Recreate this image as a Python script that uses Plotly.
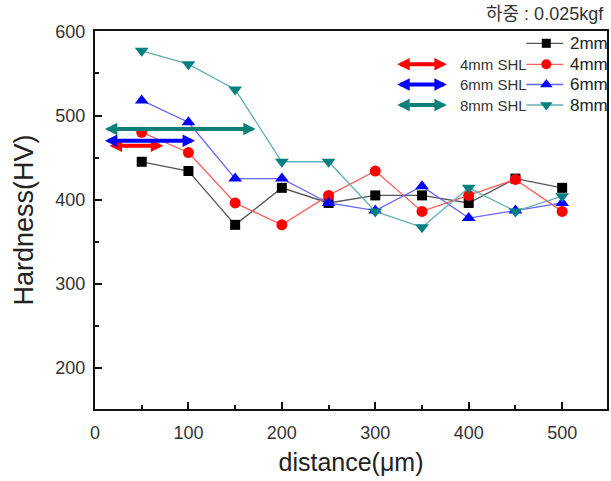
import plotly.graph_objects as go

# ---------------- data ----------------
distance = [50, 100, 150, 200, 250, 300, 350, 400, 450, 500]
hv_2mm = [445, 434, 370, 414, 396, 405, 405, 396, 425, 414]
hv_4mm = [480, 456, 396, 370, 405, 434, 386, 405, 424, 386]
hv_6mm = [518, 492, 425, 425, 396, 387, 416, 378, 387, 396]
hv_8mm = [577, 561, 531, 445, 445, 386, 367, 414, 386, 404]

series_names = ["2mm", "4mm", "6mm", "8mm"]
series_values = [hv_2mm, hv_4mm, hv_6mm, hv_8mm]
marker_symbols = ["square", "circle", "triangle-up", "triangle-down"]
marker_colors = ["#000000", "#ff0000", "#0000ff", "#008080"]
line_colors = ["#555555", "#ff5c5c", "#6464ff", "#5fb0b0"]
marker_sizes = [10, 11, 12, 12]

shl_labels = ["4mm SHL", "6mm SHL", "8mm SHL"]
shl_start = [14, 9, 9]
shl_end = [73, 107, 172]
shl_y = [464, 470, 484]
shl_colors = ["#ff0000", "#0000ff", "#0b8078"]

x_range = [0, 548]
y_range = [151, 600.5]

FONT = "Liberation Sans, Arial, Noto Sans CJK KR, sans-serif"

fig = go.Figure()

for name, vals, sym, mc, lc, ms in zip(series_names, series_values, marker_symbols,
                                       marker_colors, line_colors, marker_sizes):
    fig.add_trace(go.Scatter(
        x=distance, y=vals, name=name, mode="lines+markers",
        line=dict(color=lc, width=1.3),
        marker=dict(symbol=sym, color=mc, size=ms, line=dict(width=0)),
        showlegend=False, xaxis="x", yaxis="y"))

# data arrows (SHL)
annotations = []
for s, e, yv, c in zip(shl_start, shl_end, shl_y, shl_colors):
    annotations.append(dict(
        x=e, y=yv, ax=s, ay=yv, xref="x", yref="y", axref="x", ayref="y",
        text="", showarrow=True, arrowhead=2, arrowside="end+start",
        arrowsize=0.62, arrowwidth=4, arrowcolor=c, standoff=0, startstandoff=0))

# ------------- manual legend (paper / overlay coords) -------------
L, R, T, B = 94.5, 609.0, 31.0, 409.0
def px_to_paper_x(px):
    return (px - L) / (R - L)
def py_to_paper_y(py):
    return (B - py) / (B - T)

row_py = [43.3, 64.3, 84.5, 105.0]
for i, (name, sym, mc, lc, ms) in enumerate(zip(series_names, marker_symbols,
                                                 marker_colors, line_colors, marker_sizes)):
    yp = py_to_paper_y(row_py[i])
    fig.add_trace(go.Scatter(
        x=[px_to_paper_x(528), px_to_paper_x(565)], y=[yp, yp], mode="lines",
        line=dict(color=lc, width=1.3), showlegend=False, hoverinfo="skip",
        xaxis="x2", yaxis="y2"))
    fig.add_trace(go.Scatter(
        x=[px_to_paper_x(548)], y=[yp], mode="markers",
        marker=dict(symbol=sym, color=mc, size=ms - 1, line=dict(width=0)),
        showlegend=False, hoverinfo="skip", xaxis="x2", yaxis="y2"))
    annotations.append(dict(
        x=px_to_paper_x(570), y=yp, xref="paper", yref="paper", xanchor="left",
        yanchor="middle", text=name, showarrow=False,
        font=dict(family=FONT, size=17, color="#222222")))

for i, (lab, c) in enumerate(zip(shl_labels, shl_colors)):
    yp = py_to_paper_y(row_py[i + 1])
    annotations.append(dict(
        x=px_to_paper_x(448), y=yp, xref="paper", yref="paper",
        ax=-51, ay=0, text="", showarrow=True, arrowhead=2, arrowside="end+start",
        arrowsize=0.62, arrowwidth=4, arrowcolor=c, standoff=0, startstandoff=0))
    annotations.append(dict(
        x=px_to_paper_x(459), y=yp, xref="paper", yref="paper", xanchor="left",
        yanchor="middle", text=lab, showarrow=False,
        font=dict(family=FONT, size=15, color="#333333")))

# load title
annotations.append(dict(
    x=px_to_paper_x(608), y=py_to_paper_y(14), xref="paper", yref="paper",
    xanchor="right", yanchor="middle",
    text="하중 : 0.025kgf", showarrow=False,
    font=dict(family=FONT, size=18, color="#333333")))

axis_common = dict(showgrid=False, zeroline=False, showline=True, linecolor="#111111",
                   linewidth=2, mirror=True, ticks="inside", ticklen=7, tickwidth=2,
                   tickcolor="#111111",
                   tickfont=dict(family=FONT, size=18, color="#333333"))

fig.update_layout(
    width=611, height=481,
    margin=dict(l=94.5, r=2, t=31, b=72),
    paper_bgcolor="white", plot_bgcolor="white",
    font=dict(family=FONT),
    xaxis=dict(range=x_range, tick0=0, dtick=100, ticklabelstandoff=6,
               minor=dict(dtick=50, ticks="inside", ticklen=4, tickwidth=2, tickcolor="#111111"),
               title=dict(text="distance(μm)", font=dict(family=FONT, size=25, color="#222222"),
                          standoff=12),
               **axis_common),
    yaxis=dict(range=y_range, tick0=0, dtick=100, ticklabelstandoff=4,
               minor=dict(dtick=50, ticks="inside", ticklen=4, tickwidth=2, tickcolor="#111111"),
               title=dict(text="Hardness(HV)", font=dict(family=FONT, size=27, color="#222222"),
                          standoff=14),
               **axis_common),
    xaxis2=dict(range=[0, 1], overlaying="x", visible=False, fixedrange=True),
    yaxis2=dict(range=[0, 1], overlaying="y", visible=False, fixedrange=True),
    annotations=annotations,
    showlegend=False,
)

fig.write_html("out.html")
